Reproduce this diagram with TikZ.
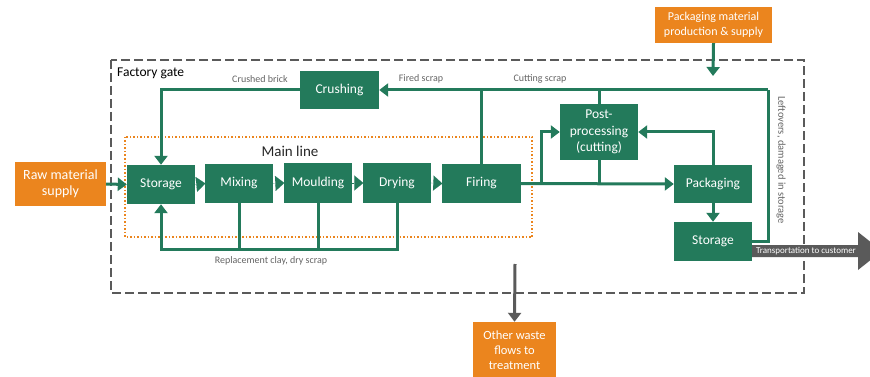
\documentclass[tikz,border=0pt]{standalone}
\usepackage{fontspec}
\setmainfont{Carlito}
\usetikzlibrary{arrows.meta}
\definecolor{gr}{RGB}{35,122,91}
\definecolor{orng}{RGB}{235,133,30}
\definecolor{gry}{RGB}{90,90,90}
\definecolor{lbl}{RGB}{100,100,100}
\tikzset{
  proc/.style={fill=gr, draw=none, text=white, font=\fontsize{13.5}{16}\selectfont, align=center, inner sep=0pt},
  ext/.style={fill=orng, draw=none, text=white, font=\fontsize{13}{15.5}\selectfont, align=center, inner sep=0pt},
  flow/.style={draw=gr, line width=3pt, -{Triangle[length=9pt,width=13pt]}},
  gline/.style={draw=gr, line width=3pt},
  chev/.style={draw=gr, line width=0.1pt, -{Triangle[length=9pt,width=15pt]}, shorten >=-0.5pt},
  lab/.style={text=lbl, font=\fontsize{10}{12}\selectfont, inner sep=0pt},
}
\begin{document}
\begin{tikzpicture}[x=1pt,y=-1pt]
\useasboundingbox (0,0) rectangle (870,377);
% frames
\draw[gry, line width=2.2pt, dash pattern=on 9pt off 4pt] (111,60) rectangle (804,293);
\draw[orng, line width=2.2pt, dash pattern=on 1.5pt off 2pt] (125,137) rectangle (532,237);
\node[anchor=west, font=\fontsize{13.5}{16}\selectfont, inner sep=0pt] (fg) at (117,73) {Factory gate};
\node[font=\fontsize{15}{18}\selectfont, text=black!85, inner sep=0pt] (ml) at (290,151) {Main line};
% nodes
\node[proc, minimum width=68pt, minimum height=39pt] (st1) at (161,184.5) {Storage};
\node[proc, minimum width=68pt, minimum height=39pt] (mix) at (239,183.5) {Mixing};
\node[proc, minimum width=68pt, minimum height=40pt] (mou) at (318,183) {Moulding};
\node[proc, minimum width=68pt, minimum height=40pt] (dry) at (397,183) {Drying};
\node[proc, minimum width=79pt, minimum height=39pt] (fir) at (481.5,183.5) {Firing};
\node[proc, minimum width=79pt, minimum height=38pt] (cru) at (339.5,90) {Crushing};
\node[proc, minimum width=78pt, minimum height=56pt, font=\fontsize{13.5}{16.5}\selectfont] (post) at (599,132) {Post-\\processing\\(cutting)};
\node[proc, minimum width=78pt, minimum height=38pt] (pack) at (713,184) {Packaging};
\node[proc, minimum width=78pt, minimum height=39pt] (st2) at (713,241.5) {Storage};
\node[ext, minimum width=91pt, minimum height=44pt, font=\fontsize{14}{16.5}\selectfont] (raw) at (60.5,184) {Raw material\\supply};
\node[ext, minimum width=117pt, minimum height=36pt, font=\fontsize{12}{14.5}\selectfont] (pms) at (713.5,25) {Packaging material\\production \& supply};
\node[ext, minimum width=83pt, minimum height=56pt, font=\fontsize{12.5}{15}\selectfont] (waste) at (514.5,350) {Other waste\\flows to\\treatment};
% coordinates
\coordinate (crt) at (768,90);
\coordinate (br) at (541,183.5);
\coordinate (pin) at (713,76);
\coordinate (wtop) at (515,264);
\coordinate (bot) at (0,249);
% main line chevrons
\draw[chev] (st1.east) -- (mix.west);
\draw[chev] (mix.east) -- (mou.west);
\draw[chev] (mou.east) -- (dry.west);
\draw[chev] (dry.east) -- (fir.west);
% flows
\draw[flow] (raw.east) -- (st1.west);
\draw[flow] (cru.west) -| (st1.north);
\draw[flow] (crt) -- (cru.east);
\draw[gline] (fir.north) -- (fir.north |- crt);
\draw[gline] (post.north) -- (post.north |- crt);
\draw[gline] (st2.east) -| (crt);
\draw[flow] (fir.east) -- (pack.west);
\draw[flow] (br) |- (post.west);
\draw[gline] (post.south) -- (post.south |- br);
\draw[flow] (pack.north) |- (post.east);
\draw[flow] (pack.south) -- (st2.north);
\draw[flow] (dry.south) -- (dry.south |- bot) -| (st1.south);
\draw[gline] (mix.south) -- (mix.south |- bot);
\draw[gline] (mou.south) -- (mou.south |- bot);
\draw[flow] (pms.south) -- (pin);
\draw[draw=gry, line width=3pt, -{Triangle[length=9pt,width=13pt]}] (wtop) -- (waste.north);
% transport arrow
\fill[gry] (752,245) -- (858,245) -- (858,232) -- (882,251) -- (858,270) -- (858,257) -- (752,257) -- cycle;
\node[text=white, font=\fontsize{9}{11}\selectfont, inner sep=0pt] (tr) at (806,251.5) {Transportation to customer};
% labels
\node[lab] (l1) at (260,79) {Crushed brick};
\node[lab] (l2) at (421,79) {Fired scrap};
\node[lab] (l3) at (540,79) {Cutting scrap};
\node[lab] (l4) at (271,261) {Replacement clay, dry scrap};
\node[lab, rotate=-90, font=\fontsize{10.5}{12}\selectfont] (l5) at (781,160) {Leftovers, damaged in storage};
\end{tikzpicture}
\end{document}
